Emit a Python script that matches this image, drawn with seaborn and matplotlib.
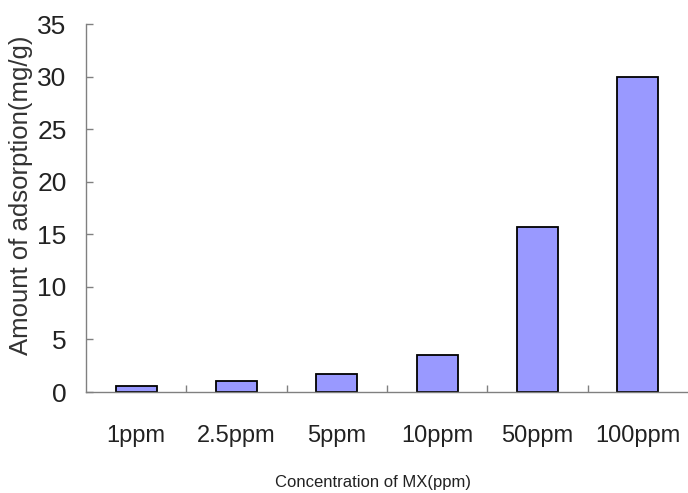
import matplotlib
matplotlib.use("Agg")
import matplotlib.pyplot as plt
from matplotlib.ticker import FixedLocator
import pandas as pd
import seaborn as sns

# data
concentrations = ['1ppm', '2.5ppm', '5ppm', '10ppm', '50ppm', '100ppm']
adsorption = [0.55, 1.0, 1.7, 3.5, 15.7, 30.0]
y_ticks = [0, 5, 10, 15, 20, 25, 30, 35]

df = pd.DataFrame({'conc': concentrations, 'amount': adsorption})

sns.set_style('white')
plt.rcParams['font.family'] = ['Liberation Sans', 'DejaVu Sans']

fig = plt.figure(figsize=(6.88, 4.93), dpi=100)
ax = fig.add_axes([86 / 688, 101 / 493, 602 / 688, 368 / 493])

sns.barplot(data=df, x='conc', y='amount', color='#9999FF', saturation=1,
            width=0.41, edgecolor='black', linewidth=1.3, ax=ax)

ax.set_xlim(-0.5, 5.5)
ax.set_ylim(0, 35)
ax.set_yticks(y_ticks)
ax.set_yticklabels([str(t) for t in y_ticks], fontsize=19, color='#222222')
ax.tick_params(axis='y', left=True, direction='in', length=5, width=1,
               color='#808080', pad=14)

# category boundary ticks on x axis
ax.set_xticks(range(len(concentrations)))
ax.set_xticklabels(concentrations, fontsize=17, color='#222222')
ax.xaxis.set_minor_locator(FixedLocator([0.5, 1.5, 2.5, 3.5, 4.5]))
ax.tick_params(axis='x', which='major', length=0, pad=32)
ax.tick_params(axis='x', which='minor', bottom=True, direction='in', length=5,
               width=1, color='#808080')
for lbl in ax.get_xticklabels():
    lbl.set_va('center')

for side in ['top', 'right']:
    ax.spines[side].set_visible(False)
for side in ['left', 'bottom']:
    ax.spines[side].set_color('#808080')
    ax.spines[side].set_linewidth(1)

ax.set_xlabel('Concentration of MX(ppm)', fontsize=12, color='#222222')
ax.xaxis.set_label_coords((373 - 86) / 602, (392 - 490) / 368)
ax.xaxis.label.set_va('bottom')

ax.set_ylabel('Amount of adsorption(mg/g)', fontsize=18.5, color='#333333', loc='bottom')
ax.yaxis.set_label_coords((33 - 86) / 602, (392 - 355) / 368)

fig.savefig('out.png', dpi=100)
